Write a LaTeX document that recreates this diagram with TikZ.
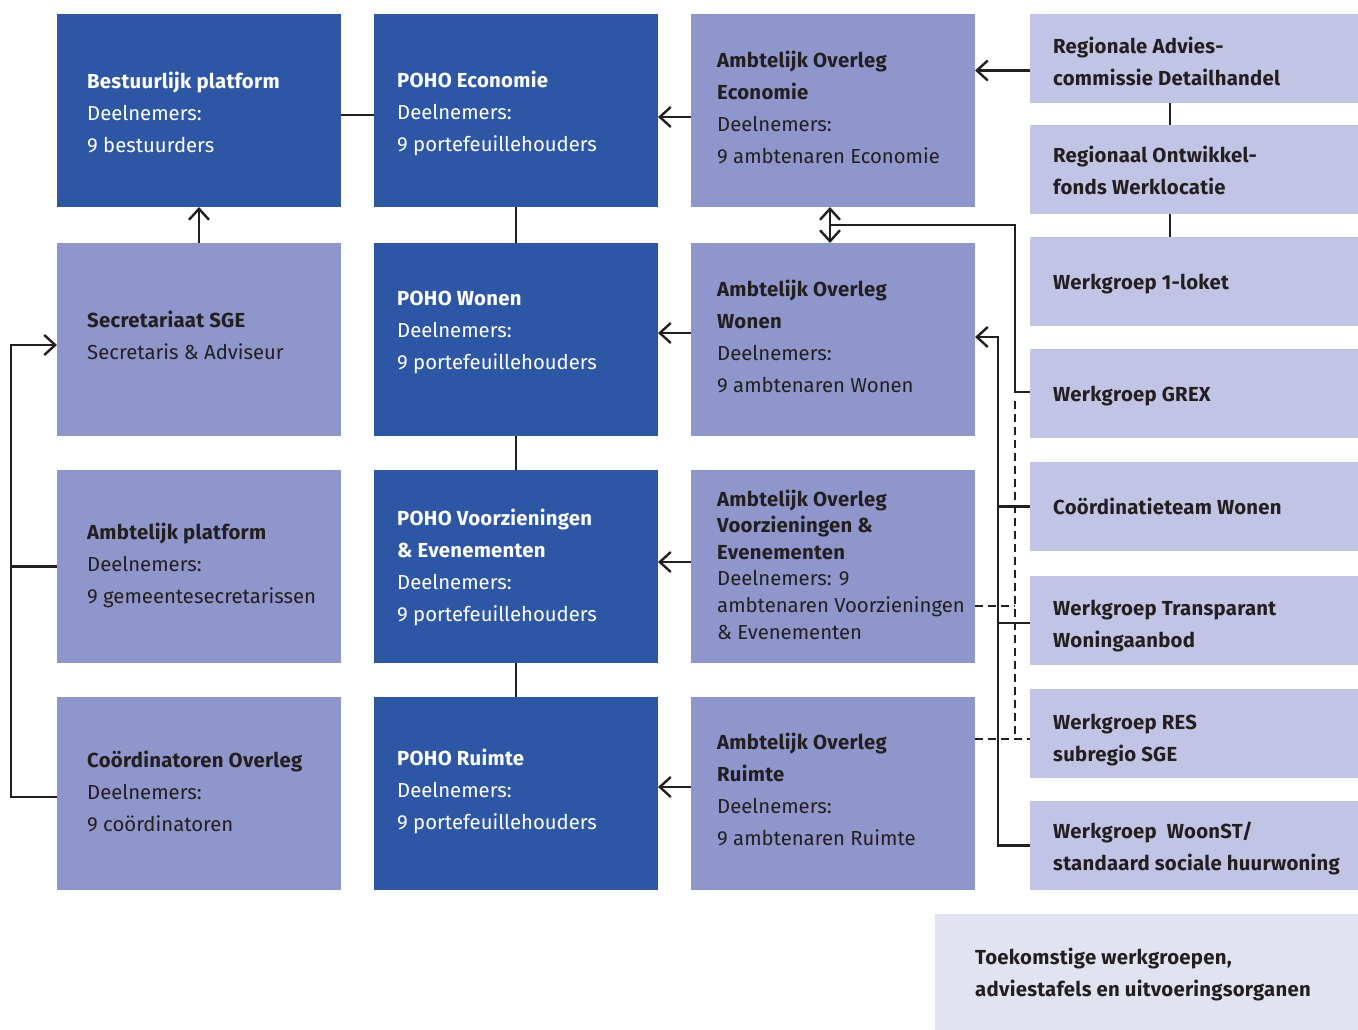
\documentclass[tikz,border=0pt]{standalone}
\usepackage{fontspec}
\setmainfont{Fira Sans}[BoldFeatures={LetterSpace=1.4}]
\usetikzlibrary{calc,arrows.meta}
\definecolor{dkblue}{RGB}{45,87,165}
\definecolor{midlav}{RGB}{142,150,203}
\definecolor{ltlav}{RGB}{193,196,228}
\definecolor{leglav}{RGB}{225,227,241}
\definecolor{ink}{RGB}{35,31,32}
\tikzset{
  box/.style={rectangle, anchor=north west, inner sep=0, outer sep=0, draw=none},
  bigbox/.style={box, minimum width=284pt, minimum height=193pt},
  wbox/.style={box, minimum width=328pt, minimum height=89pt, fill=ltlav},
  txt/.style={anchor=west, inner sep=0, align=left, font=\fontsize{20.3pt}{32pt}\selectfont},
  tighttxt/.style={txt, font=\fontsize{20.3pt}{26.6pt}\selectfont},
  wtxt/.style={txt, text=white},
  dtxt/.style={txt, text=ink},
  btxt/.style={dtxt, font=\bfseries\fontsize{20.3pt}{32pt}\selectfont},
  conn/.style={draw=ink, line width=2.4pt},
  arr/.style={conn, -{Straight Barb[length=11pt,width=20pt,line width=2.4pt]}},
  arrr/.style={conn, {Straight Barb[length=11pt,width=20pt,line width=2.4pt]}-{Straight Barb[length=11pt,width=20pt,line width=2.4pt]}},
  dashline/.style={draw=ink, line width=2.6pt, dash pattern=on 8pt off 5pt}
}
\begin{document}
\begin{tikzpicture}[x=1pt,y=-1pt]
\useasboundingbox (0,0) rectangle (1358,1030);
% column 1
\node[bigbox, fill=dkblue] (bp) at (57,14) {};
\node[bigbox, fill=midlav] (sec) at (57,243) {};
\node[bigbox, fill=midlav] (apl) at (57,470) {};
\node[bigbox, fill=midlav] (co) at (57,697) {};
% column 2
\node[bigbox, fill=dkblue] (pe) at (374,14) {};
\node[bigbox, fill=dkblue] (pw) at (374,243) {};
\node[bigbox, fill=dkblue] (pv) at (374,470) {};
\node[bigbox, fill=dkblue] (pr) at (374,697) {};
% column 3
\node[bigbox, fill=midlav] (ae) at (691,14) {};
\node[bigbox, fill=midlav] (aw) at (691,243) {};
\node[bigbox, fill=midlav] (av) at (691,470) {};
\node[bigbox, fill=midlav] (ar) at (691,697) {};
% column 4
\node[wbox] (r1) at (1030,14) {};
\node[wbox] (r2) at (1030,125) {};
\node[wbox] (r3) at (1030,237) {};
\node[wbox] (r4) at (1030,349) {};
\node[wbox] (r5) at (1030,462) {};
\node[wbox] (r6) at (1030,576) {};
\node[wbox] (r7) at (1030,689) {};
\node[wbox] (r8) at (1030,801) {};
% legend
\node[box, fill=leglav, minimum width=423pt, minimum height=116pt] (leg) at (935,914) {};

% texts
\node[wtxt] (tbp) at ($(bp.west)+(30,2)$) {\textbf{Bestuurlijk platform}\\Deelnemers:\\9 bestuurders};
\node[dtxt] (tsec) at ($(sec.west)+(30,-4)$) {\textbf{Secretariaat SGE}\\Secretaris \& Adviseur};
\node[dtxt] (tapl) at ($(apl.west)+(30,-1)$) {\textbf{Ambtelijk platform}\\Deelnemers:\\9 gemeentesecretarissen};
\node[dtxt] (tco) at ($(co.west)+(30,-2)$) {\textbf{Coördinatoren Overleg}\\Deelnemers:\\9 coördinatoren};

\node[wtxt] (tpe) at ($(pe.west)+(23,3)$) {\textbf{POHO Economie}\\Deelnemers:\\9 portefeuillehouders};
\node[wtxt] (tpw) at ($(pw.west)+(23,-7)$) {\textbf{POHO Wonen}\\Deelnemers:\\9 portefeuillehouders};
\node[wtxt] (tpv) at ($(pv.west)+(23,1)$) {\textbf{POHO Voorzieningen}\\\textbf{\& Evenementen}\\Deelnemers:\\9 portefeuillehouders};
\node[wtxt] (tpr) at ($(pr.west)+(23,-2)$) {\textbf{POHO Ruimte}\\Deelnemers:\\9 portefeuillehouders};

\node[dtxt] (tae) at ($(ae.west)+(26,-3)$) {\textbf{Ambtelijk Overleg}\\\textbf{Economie}\\Deelnemers:\\9 ambtenaren Economie};
\node[dtxt] (taw) at ($(aw.west)+(26,-3)$) {\textbf{Ambtelijk Overleg}\\\textbf{Wonen}\\Deelnemers:\\9 ambtenaren Wonen};
\node[tighttxt, text=ink] (tav) at ($(av.west)+(26,-2)$) {\textbf{Ambtelijk Overleg}\\\textbf{Voorzieningen \&}\\\textbf{Evenementen}\\Deelnemers: 9\\ambtenaren Voorzieningen\\\& Evenementen};
\node[dtxt] (tar) at ($(ar.west)+(26,-4)$) {\textbf{Ambtelijk Overleg}\\\textbf{Ruimte}\\Deelnemers:\\9 ambtenaren Ruimte};

\node[btxt] (tr1) at ($(r1.west)+(23,3)$) {Regionale Advies-\\commissie Detailhandel};
\node[btxt] (tr2) at ($(r2.west)+(23,1)$) {Regionaal Ontwikkel-\\fonds Werklocatie};
\node[btxt] (tr3) at ($(r3.west)+(23,3)$) {Werkgroep 1-loket};
\node[btxt] (tr4) at ($(r4.west)+(23,3)$) {Werkgroep GREX};
\node[btxt] (tr5) at ($(r5.west)+(23,0)$) {Coördinatieteam Wonen};
\node[btxt] (tr6) at ($(r6.west)+(23,6)$) {Werkgroep Transparant\\Woningaanbod};
\node[btxt] (tr7) at ($(r7.west)+(23,7)$) {Werkgroep RES\\subregio SGE};
\node[btxt] (tr8) at ($(r8.west)+(23,3)$) {Werkgroep\ \ WoonST/\\standaard sociale huurwoning};
\node[btxt] (tleg) at ($(leg.west)+(40,3)$) {Toekomstige werkgroepen,\\adviestafels en uitvoeringsorganen};

% connectors
\coordinate (h0) at ($(bp.east)+(0,4.5)$);
\draw[conn] (h0) -- (h0 -| pe.west);
\draw[conn] (pe.south) -- (pw.north);
\draw[conn] (pw.south) -- (pv.north);
\draw[conn] (pv.south) -- (pr.north);
\draw[arr] (sec.north) -- (bp.south);

\coordinate (q1) at ($(ae.west)+(0,6.5)$);
\draw[arr] (q1) -- (q1 -| pe.east);
\coordinate (q2) at ($(aw.west)+(0,-6.5)$);
\draw[arr] (q2) -- (q2 -| pw.east);
\coordinate (q3) at ($(av.west)+(0,-4.5)$);
\draw[arr] (q3) -- (q3 -| pv.east);
\coordinate (q4) at ($(ar.west)+(0,-6.5)$);
\draw[arr] (q4) -- (q4 -| pr.east);

% left bracket
\coordinate (l0) at ($(co.west)+(-46,3.5)$);
\coordinate (s1) at ($(sec.west)+(0,5.5)$);
\draw[arr] (l0 -| co.west) -- (l0) |- (s1);
\draw[conn] (apl.west) -- (apl.west -| l0);

% right column links
\coordinate (a1) at ($(r1.west)+(0,12)$);
\draw[arr] (a1) -- (a1 -| ae.east);
\coordinate (v1) at ($(r1.south)+(-24,0)$);
\draw[conn] (v1) -- (v1 |- r2.north);
\coordinate (v2) at ($(r2.south)+(-24,0)$);
\draw[conn] (v2) -- (v2 |- r3.north);

\coordinate (ax) at ($(ae.south)+(-3,0)$);
\draw[arrr] (ax) -- (ax |- aw.north);
\coordinate (m) at ($(ax)!0.5!(ax |- aw.north)$);
\coordinate (g) at ($(r4.west)+(-15,-1.5)$);
\draw[conn] (m) -| (g) -- (g -| r4.west);

\coordinate (w1) at ($(aw.east)+(0,-2.5)$);
\coordinate (w0) at ($(r8.west)+(-32,0)$);
\draw[arr] (r8.west) -- (w0) |- (w1);
\draw[conn] (r5.west) -- (r5.west -| w0);
\coordinate (w2) at ($(r6.west)+(0,2.5)$);
\draw[conn] (w2) -- (w2 -| w0);

\coordinate (d1) at ($(r7.west)+(0,5.5)$);
\draw[dashline] (d1 -| ar.east) -- (d1);
\draw[dashline] ($(g)+(0,9)$) -- (g |- d1);
\coordinate (d2) at ($(av.east)+(0,39.5)$);
\draw[dashline] (d2) -- (d2 -| g);
\end{tikzpicture}
\end{document}
